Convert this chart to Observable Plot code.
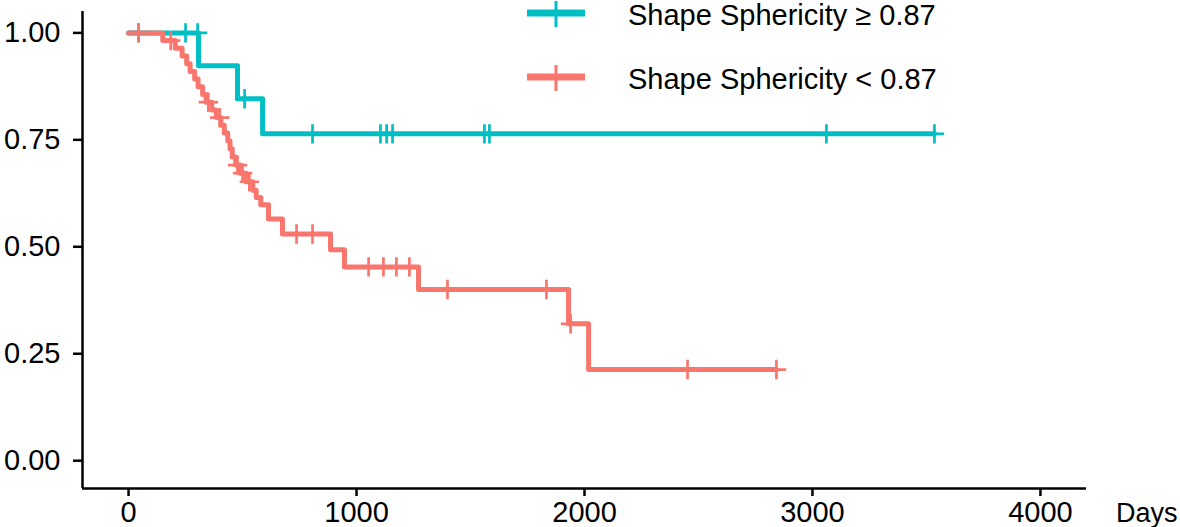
<!DOCTYPE html>
<html><head><meta charset="utf-8">
<script src="https://cdn.jsdelivr.net/npm/d3@7"></script>
<script src="https://cdn.jsdelivr.net/npm/@observablehq/plot@0.6"></script>
<style>
body{margin:0;background:#fff;font-family:"Liberation Sans",Arial,sans-serif}
#wrap{position:relative;width:1180px;height:527px;overflow:hidden}
#overlay{position:absolute;left:0;top:0;pointer-events:none}
</style></head><body><div id="wrap"></div>
<script>
// Groups and colours
const groups = ["Shape Sphericity \u2265 0.87", "Shape Sphericity < 0.87"];
const groupColors = ["#00BFC4", "#F8766D"];

// Group 1: Shape Sphericity >= 0.87 (step curve)
const hiTime = [0, 307, 478, 588, 3535];
const hiSurv = [1.0, 0.923, 0.846, 0.764, 0.764];
const hiCensorTime = [44, 250, 303, 509, 807, 1105, 1132, 1158, 1561, 1583, 3061, 3535];
const hiCensorSurv = [1.0, 1.0, 1.0, 0.846, 0.764, 0.764, 0.764, 0.764, 0.764, 0.764, 0.764, 0.764];

// Group 2: Shape Sphericity < 0.87 (step curve)
const loTime = [0, 150, 205, 235, 255, 270, 290, 305, 325, 340, 365, 385, 405, 420, 435, 445, 455, 470, 490, 515, 545, 560, 580, 614, 675, 886, 947, 1272, 1930, 2018, 2842];
const loSurv = [1.0, 0.982, 0.964, 0.946, 0.928, 0.910, 0.892, 0.874, 0.856, 0.838, 0.820, 0.802, 0.784, 0.766, 0.748, 0.729, 0.710, 0.691, 0.672, 0.652, 0.632, 0.615, 0.598, 0.565, 0.530, 0.493, 0.453, 0.400, 0.320, 0.213, 0.213];
const loCensorTime = [44, 185, 350, 400, 478, 500, 530, 737, 807, 1053, 1118, 1175, 1232, 1399, 1833, 1939, 2452, 2842];
const loCensorSurv = [1.0, 0.982, 0.838, 0.802, 0.691, 0.672, 0.652, 0.530, 0.530, 0.453, 0.453, 0.453, 0.453, 0.400, 0.400, 0.320, 0.213, 0.213];

// Axes
const xDomain = [-202, 4202];
const yDomain = [-0.065, 1.05];
const xTicks = [0, 1000, 2000, 3000, 4000];
const xTickLabels = ["0", "1000", "2000", "3000", "4000"];
const yTicks = [0, 0.25, 0.5, 0.75, 1];
const yTickLabels = ["0.00", "0.25", "0.50", "0.75", "1.00"];
const xTitle = "Days";

const lines = [
  ...hiTime.map((t, i) => ({t, s: hiSurv[i], g: groups[0]})),
  ...loTime.map((t, i) => ({t, s: loSurv[i], g: groups[1]}))
];
const censors = [
  ...hiCensorTime.map((t, i) => ({t, s: hiCensorSurv[i], g: groups[0]})),
  ...loCensorTime.map((t, i) => ({t, s: loCensorSurv[i], g: groups[1]}))
];

const FONT = "Liberation Sans, Arial, Helvetica, sans-serif";
const chart = Plot.plot({
  width: 1180, height: 527,
  marginLeft: 82, marginRight: 94, marginTop: 11, marginBottom: 39,
  x: {domain: xDomain},
  y: {domain: yDomain},
  color: {domain: groups, range: groupColors},
  style: {fontFamily: FONT, fontSize: "29px", color: "#000", background: "#fff", overflow: "visible"},
  marks: [
    Plot.axisX({ticks: xTicks, tickFormat: (d) => xTickLabels[xTicks.indexOf(d)], tickSize: 8, tickPadding: 5, strokeWidth: 2.5, label: null, fontSize: 29, fontFamily: FONT, fill: "#000"}),
    Plot.axisY({ticks: yTicks, tickFormat: (d) => yTickLabels[yTicks.indexOf(d)], tickSize: 9, tickPadding: 13, strokeWidth: 2.5, label: null, fontSize: 29, fontFamily: FONT, fill: "#000"}),
    Plot.ruleX([xDomain[0]], {stroke: "#000", strokeWidth: 2.5}),
    Plot.ruleY([yDomain[0]], {stroke: "#000", strokeWidth: 2.5}),
    Plot.line(lines, {x: "t", y: "s", z: "g", stroke: "g", curve: "step-after", strokeWidth: 5}),
    Plot.dot(censors, {x: "t", y: "s", stroke: "g", symbol: "plus", r: 6.3, strokeWidth: 2.7})
  ]
});
const wrap = document.getElementById("wrap");
wrap.appendChild(chart);

// Legend + axis title overlay
const ns = "http://www.w3.org/2000/svg";
const ov = document.createElementNS(ns, "svg");
ov.setAttribute("id", "overlay");
ov.setAttribute("width", 1180); ov.setAttribute("height", 527);
const keyY = [13, 77];
groups.forEach((g, i) => {
  const y = keyY[i];
  const h = document.createElementNS(ns, "line");
  h.setAttribute("x1", 527); h.setAttribute("x2", 585); h.setAttribute("y1", y); h.setAttribute("y2", y);
  h.setAttribute("stroke", groupColors[i]); h.setAttribute("stroke-width", 7);
  ov.appendChild(h);
  const v = document.createElementNS(ns, "line");
  v.setAttribute("x1", 556); v.setAttribute("x2", 556); v.setAttribute("y1", y - 12); v.setAttribute("y2", y + 14);
  v.setAttribute("stroke", groupColors[i]); v.setAttribute("stroke-width", 3);
  ov.appendChild(v);
  const t = document.createElementNS(ns, "text");
  t.setAttribute("x", 628); t.setAttribute("y", y + 12);
  t.setAttribute("font-family", FONT); t.setAttribute("font-size", 29); t.setAttribute("fill", "#000");
  t.textContent = g;
  ov.appendChild(t);
});
const dt = document.createElementNS(ns, "text");
dt.setAttribute("x", 1116); dt.setAttribute("y", 522);
dt.setAttribute("font-family", FONT); dt.setAttribute("font-size", 27); dt.setAttribute("fill", "#000");
dt.textContent = xTitle;
ov.appendChild(dt);
wrap.appendChild(ov);
</script>
</body></html>
